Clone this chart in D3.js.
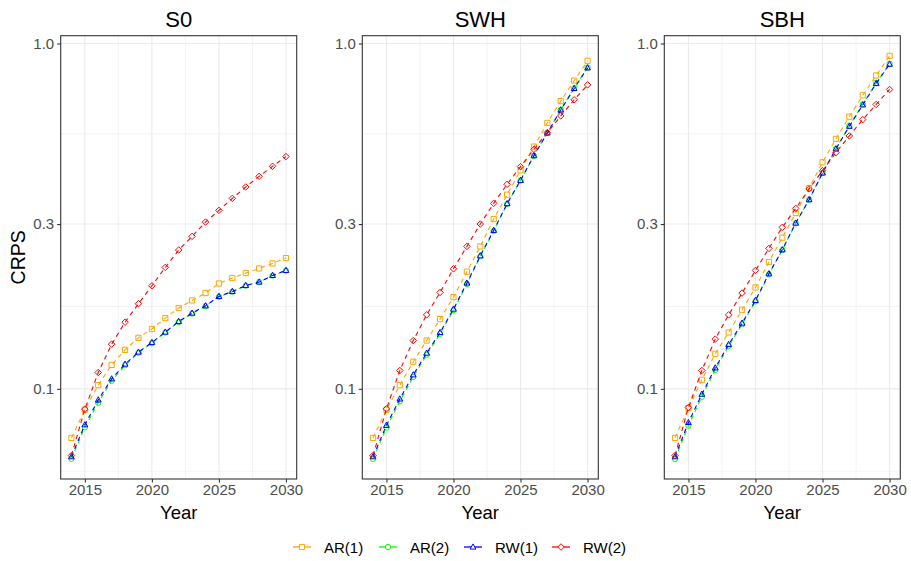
<!DOCTYPE html>
<html>
<head>
<meta charset="utf-8">
<script src="https://cdn.jsdelivr.net/npm/d3@7"></script>
<style>
  body { margin: 0; background: #fff; }
  svg { display: block; font-family: "Liberation Sans", Arial, sans-serif; }
</style>
</head>
<body>
<script>
// --- Data ---
const years = d3.range(2014, 2031);
const panels = ["S0", "SWH", "SBH"];
const seriesNames = ["AR(1)", "AR(2)", "RW(1)", "RW(2)"];
const yTicks = [0.1, 0.3, 1.0];
const xTicks = [2015, 2020, 2025, 2030];

// CRPS values per panel, one array per model (2014..2030)
const s0_ar1 = [0.0721, 0.0870, 0.1025, 0.1173, 0.1297, 0.1405, 0.1490, 0.1603, 0.1714, 0.1803, 0.1894, 0.2019, 0.2094, 0.2164, 0.2232, 0.2308, 0.2391];
const s0_ar2 = [0.0627, 0.0774, 0.0911, 0.1055, 0.1170, 0.1272, 0.1356, 0.1456, 0.1562, 0.1652, 0.1736, 0.1848, 0.1911, 0.1990, 0.2037, 0.2128, 0.2200];
const s0_rw1 = [0.0636, 0.0787, 0.0929, 0.1069, 0.1179, 0.1278, 0.1362, 0.1460, 0.1567, 0.1657, 0.1740, 0.1852, 0.1914, 0.1992, 0.2039, 0.2130, 0.2203];
const s0_rw2 = [0.0641, 0.0873, 0.1115, 0.1347, 0.1560, 0.1764, 0.1988, 0.2247, 0.2523, 0.2764, 0.3041, 0.3287, 0.3561, 0.3842, 0.4125, 0.4410, 0.4705];

const swh_ar1 = [0.0721, 0.0870, 0.1025, 0.1198, 0.1380, 0.1592, 0.1843, 0.2184, 0.2585, 0.3102, 0.3650, 0.4293, 0.5030, 0.5890, 0.6810, 0.7810, 0.8910];
const swh_ar2 = [0.0627, 0.0772, 0.0920, 0.1082, 0.1255, 0.1443, 0.1690, 0.2012, 0.2418, 0.2868, 0.3430, 0.4010, 0.4730, 0.5510, 0.6430, 0.7420, 0.8520];
const swh_rw1 = [0.0636, 0.0784, 0.0935, 0.1098, 0.1269, 0.1456, 0.1702, 0.2025, 0.2429, 0.2877, 0.3438, 0.4016, 0.4735, 0.5510, 0.6420, 0.7410, 0.8500];
const swh_rw2 = [0.0641, 0.0875, 0.1130, 0.1380, 0.1638, 0.1902, 0.2227, 0.2585, 0.3000, 0.3444, 0.3910, 0.4400, 0.4940, 0.5520, 0.6170, 0.6870, 0.7590];

const sbh_ar1 = [0.0721, 0.0880, 0.1062, 0.1263, 0.1456, 0.1694, 0.1966, 0.2330, 0.2740, 0.3229, 0.3816, 0.4529, 0.5295, 0.6140, 0.7080, 0.8080, 0.9210];
const sbh_ar2 = [0.0627, 0.0782, 0.0948, 0.1135, 0.1330, 0.1538, 0.1792, 0.2146, 0.2522, 0.3015, 0.3530, 0.4220, 0.4960, 0.5780, 0.6670, 0.7700, 0.8740];
const sbh_rw1 = [0.0636, 0.0799, 0.0965, 0.1150, 0.1344, 0.1550, 0.1803, 0.2154, 0.2529, 0.3020, 0.3530, 0.4218, 0.4953, 0.5760, 0.6640, 0.7660, 0.8710];
const sbh_rw2 = [0.0641, 0.0883, 0.1130, 0.1393, 0.1638, 0.1894, 0.2203, 0.2550, 0.2935, 0.3331, 0.3793, 0.4284, 0.4831, 0.5400, 0.6020, 0.6660, 0.7360];

const panelData = [
  [s0_ar1, s0_ar2, s0_rw1, s0_rw2],
  [swh_ar1, swh_ar2, swh_rw1, swh_rw2],
  [sbh_ar1, sbh_ar2, sbh_rw1, sbh_rw2]
];

// --- Styles ---
const colors = ["#FFA500", "#00FF00", "#0000FF", "#FF0000"];
const shapes = ["square", "circle", "triangle", "diamond"];

const width = 911, height = 561;
const panelLeft = [60.7, 362.3, 664.3];
const panelWidth = 236;
const panelTop = 35.7, panelBottom = 479;

// Shared log y-domain with 5% expansion (like ggplot)
const allVals = panelData.flat(2);
const lo = Math.log10(d3.min(allVals)), hi = Math.log10(d3.max(allVals));
const pad = (hi - lo) * 0.05;
const yDomain = [Math.pow(10, lo - pad), Math.pow(10, hi + pad)];
const xPad = (2030 - 2014) * 0.05;

// Marker path for each shape
function markerPath(shape) {
  const s = 2.6;
  if (shape === "square") return `M${-s},${-s}H${s}V${s}H${-s}Z`;
  if (shape === "triangle") return `M0,${-s * 1.2}L${s * 1.1},${s * 0.8}L${-s * 1.1},${s * 0.8}Z`;
  if (shape === "diamond") return `M0,${-s * 1.25}L${s * 1.25},0L0,${s * 1.25}L${-s * 1.25},0Z`;
  return d3.symbol(d3.symbolCircle, 22)();
}

const svg = d3.select("body").append("svg")
  .attr("width", width)
  .attr("height", height);

panels.forEach((name, pi) => {
  const x = d3.scaleLinear()
    .domain([2014 - xPad, 2030 + xPad])
    .range([panelLeft[pi], panelLeft[pi] + panelWidth]);
  const y = d3.scaleLog()
    .domain(yDomain)
    .range([panelBottom, panelTop]);

  const g = svg.append("g");

  // grid: minor lines at midpoints of majors (transformed scale)
  const lt = yTicks.map(Math.log10);
  const ext = [lt[0] - (lt[1] - lt[0]), ...lt, lt[lt.length - 1] + (lt[lt.length - 1] - lt[lt.length - 2])];
  const yMinor = d3.range(ext.length - 1).map(i => Math.pow(10, (ext[i] + ext[i + 1]) / 2))
    .filter(v => v > yDomain[0] && v < yDomain[1]);
  const xMinor = [2012.5, 2017.5, 2022.5, 2027.5].filter(v => v > x.domain()[0]);

  g.selectAll(".ymin").data(yMinor).join("line")
    .attr("x1", x.range()[0]).attr("x2", x.range()[1])
    .attr("y1", d => y(d)).attr("y2", d => y(d))
    .attr("stroke", "#ebebeb").attr("stroke-width", 0.6);
  g.selectAll(".xmin").data(xMinor).join("line")
    .attr("y1", panelTop).attr("y2", panelBottom)
    .attr("x1", d => x(d)).attr("x2", d => x(d))
    .attr("stroke", "#ebebeb").attr("stroke-width", 0.6);
  g.selectAll(".ymaj").data(yTicks).join("line")
    .attr("x1", x.range()[0]).attr("x2", x.range()[1])
    .attr("y1", d => y(d)).attr("y2", d => y(d))
    .attr("stroke", "#ebebeb").attr("stroke-width", 1.1);
  g.selectAll(".xmaj").data(xTicks).join("line")
    .attr("y1", panelTop).attr("y2", panelBottom)
    .attr("x1", d => x(d)).attr("x2", d => x(d))
    .attr("stroke", "#ebebeb").attr("stroke-width", 1.1);

  // lines and points
  panelData[pi].forEach((vals, si) => {
    const pts = years.map((yr, i) => [yr, vals[i]]);
    g.append("path")
      .datum(pts)
      .attr("fill", "none")
      .attr("stroke", colors[si])
      .attr("stroke-width", 1.1)
      .attr("stroke-dasharray", "4.5,4")
      .attr("d", d3.line().x(d => x(d[0])).y(d => y(d[1])));
    g.selectAll(null).data(pts).join("path")
      .attr("transform", d => `translate(${x(d[0])},${y(d[1])})`)
      .attr("d", markerPath(shapes[si]))
      .attr("fill", "none")
      .attr("stroke", colors[si])
      .attr("stroke-width", 1);
  });

  // panel border
  g.append("rect")
    .attr("x", x.range()[0]).attr("y", panelTop)
    .attr("width", panelWidth).attr("height", panelBottom - panelTop)
    .attr("fill", "none").attr("stroke", "#333333").attr("stroke-width", 1.1);

  // axes
  const yAxis = g.append("g")
    .attr("transform", `translate(${x.range()[0]},0)`)
    .call(d3.axisLeft(y).tickValues(yTicks).tickFormat(d3.format(".1f")).tickSize(3.5).tickPadding(3));
  const xAxis = g.append("g")
    .attr("transform", `translate(0,${panelBottom})`)
    .call(d3.axisBottom(x).tickValues(xTicks).tickFormat(d3.format("d")).tickSize(3.5).tickPadding(2));
  [yAxis, xAxis].forEach(ax => {
    ax.select(".domain").remove();
    ax.selectAll("line").attr("stroke", "#333333").attr("stroke-width", 1.1);
    ax.selectAll("text").attr("fill", "#4d4d4d").style("font-size", "15px");
  });

  // title and x label
  const cx = (x.range()[0] + x.range()[1]) / 2;
  svg.append("text").attr("x", cx).attr("y", 26.5)
    .attr("text-anchor", "middle").style("font-size", "22px").text(name);
  svg.append("text").attr("x", cx).attr("y", 519)
    .attr("text-anchor", "middle").style("font-size", "18.5px").text("Year");
});

// y label
svg.append("text")
  .attr("transform", `translate(25,${(panelTop + panelBottom) / 2}) rotate(-90)`)
  .attr("text-anchor", "middle").style("font-size", "19.5px").text("CRPS");

// --- Legend ---
const legendX = [293, 379, 464, 552];
const legend = svg.append("g").selectAll("g").data(seriesNames).join("g")
  .attr("transform", (d, i) => `translate(${legendX[i]},547)`);
legend.append("line").attr("x1", 0).attr("x2", 18)
  .attr("stroke", (d, i) => colors[i]).attr("stroke-width", 1.3);
legend.append("path")
  .attr("transform", "translate(9,0)")
  .attr("d", (d, i) => markerPath(shapes[i]))
  .attr("fill", "#fff").attr("stroke", (d, i) => colors[i]).attr("stroke-width", 1);
legend.append("text").attr("x", 31).attr("y", 5.5)
  .style("font-size", "15px").text(d => d);
</script>
</body>
</html>
